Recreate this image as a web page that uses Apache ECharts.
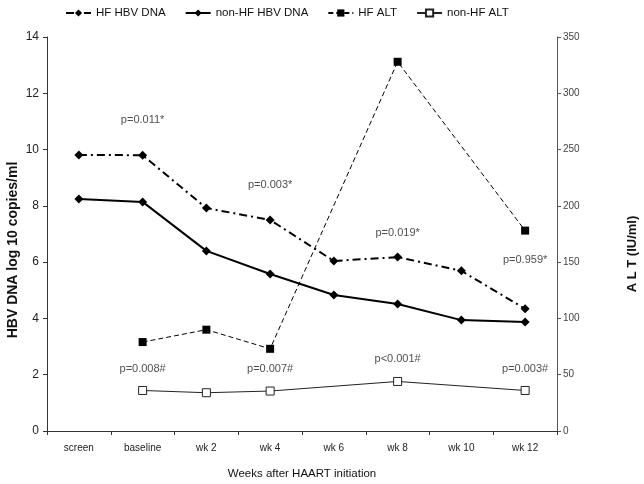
<!DOCTYPE html>
<html><head><meta charset="utf-8">
<script src="https://cdn.jsdelivr.net/npm/echarts@6/dist/echarts.min.js"></script>
<style>html,body{margin:0;padding:0;background:#fff}#c{width:644px;height:484px}</style>
</head><body><div id="c"></div>
<script>
var categories = ['screen','baseline','wk 2','wk 4','wk 6','wk 8','wk 10','wk 12'];
var hfHbv = [9.81, 9.80, 7.92, 7.50, 6.04, 6.18, 5.69, 4.34];
var nonHfHbv = [8.24, 8.14, 6.40, 5.58, 4.83, 4.51, 3.94, 3.87];
var hfAlt = [null, 79, 90, 73, null, 328, null, 178];
var nonHfAlt = [null, 36, 34, 35.5, null, 44, null, 36];
var leftTicks = {min:0, max:14, interval:2};
var rightTicks = {min:0, max:350, interval:50};
var annLabels = ['p=0.011*','p=0.003*','p=0.019*','p=0.959*','p=0.008#','p=0.007#','p<0.001#','p=0.003#'];
var annCats = ['baseline','wk 4','wk 8','wk 12','baseline','wk 4','wk 8','wk 12'];
var annY = [11.05, 8.74, 7.04, 6.08, 2.2, 2.2, 2.56, 2.2];

var FONT = '"Liberation Sans", Arial, sans-serif';
var chart = echarts.init(document.getElementById('c'));
var annData = annLabels.map(function(l,i){return {name:l, value:[annCats[i], annY[i]]};});
chart.setOption({
  animation:false,
  textStyle:{fontFamily:FONT},
  legend:{
    top:2, left:60, itemGap:19, itemWidth:25, itemHeight:9,
    data:['HF HBV DNA','non-HF HBV DNA','HF ALT','non-HF ALT'],
    textStyle:{fontFamily:FONT, fontSize:11.5, color:'#111'}
  },
  grid:{left:47, right:87, top:37, bottom:53, outerBoundsMode:'none', containLabel:false},
  xAxis:{
    type:'category', data:categories, boundaryGap:true,
    axisLine:{lineStyle:{color:'#333'}},
    axisTick:{show:true, alignWithLabel:false, length:4, lineStyle:{color:'#333'}},
    axisLabel:{fontSize:10, color:'#222', margin:12},
    name:'Weeks after HAART initiation', nameLocation:'middle', nameGap:37,
    nameTextStyle:{fontSize:11.5, color:'#111'}
  },
  yAxis:[{
    type:'value', min:leftTicks.min, max:leftTicks.max, interval:leftTicks.interval,
    axisLine:{show:true, lineStyle:{color:'#333'}},
    axisTick:{show:true, length:4, lineStyle:{color:'#333'}},
    splitLine:{show:false},
    axisLabel:{fontSize:12, color:'#222', margin:8},
    name:'HBV DNA log 10 copies/ml', nameLocation:'middle', nameGap:27, nameMoveOverlap:false,
    nameTextStyle:{fontSize:14, fontWeight:'bold', color:'#111', padding:[0,32,0,0]}
  },{
    type:'value', min:rightTicks.min, max:rightTicks.max, interval:rightTicks.interval,
    position:'right',
    axisLine:{show:true, lineStyle:{color:'#555'}},
    axisTick:{show:true, length:4, lineStyle:{color:'#555'}},
    splitLine:{show:false},
    axisLabel:{fontSize:10, color:'#444', margin:6},
    name:'A L T (IU/ml)', nameLocation:'middle', nameGap:69, nameRotate:90,
    nameTextStyle:{fontSize:13, fontWeight:'bold', color:'#111', padding:[0,40,0,0]}
  }],
  series:[{
    name:'HF HBV DNA', type:'line', data:hfHbv, yAxisIndex:0,
    symbol:'diamond', symbolSize:9, showSymbol:true,
    itemStyle:{color:'#000'},
    lineStyle:{color:'#000', width:2, type:[8,4,2,4]}
  },{
    name:'non-HF HBV DNA', type:'line', data:nonHfHbv, yAxisIndex:0,
    symbol:'diamond', symbolSize:9,
    itemStyle:{color:'#000'},
    lineStyle:{color:'#000', width:2, type:'solid'}
  },{
    name:'HF ALT', type:'line', data:hfAlt, yAxisIndex:1, connectNulls:true,
    symbol:'rect', symbolSize:8,
    itemStyle:{color:'#000'},
    lineStyle:{color:'#000', width:1, type:[5,3]}
  },{
    name:'non-HF ALT', type:'line', data:nonHfAlt, yAxisIndex:1, connectNulls:true,
    symbol:'rect', symbolSize:8,
    itemStyle:{color:'#fff', borderColor:'#222', borderWidth:1},
    lineStyle:{color:'#222', width:1, type:'solid'}
  },{
    name:'annotations', type:'scatter', data:annData, yAxisIndex:0,
    symbolSize:0, silent:true,
    label:{show:true, position:'inside', formatter:'{b}', fontSize:11, color:'#222'}
  }]
});
</script></body></html>
